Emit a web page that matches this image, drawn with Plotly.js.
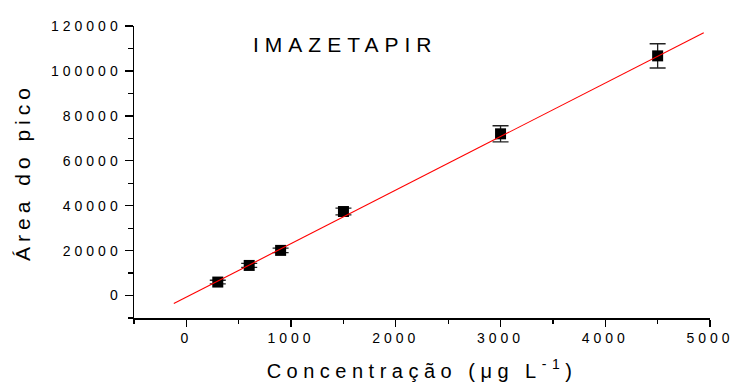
<!DOCTYPE html>
<html>
<head>
<meta charset="utf-8">
<script src="https://cdn.plot.ly/plotly-3.0.1.min.js"></script>
<style>
  html, body { margin: 0; padding: 0; background: #fff; }
  #chart { width: 735px; height: 385px; }
  .xtick text, .ytick text { letter-spacing: 4px; }
  .g-xtitle text { letter-spacing: 5.5px; }
  .g-ytitle text { letter-spacing: 5px; }
  .annotation-text { letter-spacing: 6px; }
</style>
</head>
<body>
<div id="chart"></div>
<script>
// Data
const concentration = [300, 600, 900, 1500, 3000, 4500];          // µg L-1
const peakArea      = [6000, 13400, 20100, 37400, 72000, 106700];
const peakAreaError = [800, 900, 1000, 1500, 3600, 5400];

// Fitted line endpoints as drawn in the picture
const fitX = [-120, 4940];
const fitY = [-3560, 117000];

const chartTitle = 'IMAZETAPIR';
const xTitle = 'Concentração (μg L<sup>-1</sup>)';
const yTitle = 'Área do pico';
const xTickVals = [0, 1000, 2000, 3000, 4000, 5000];
const yTickVals = [0, 20000, 40000, 60000, 80000, 100000, 120000];

const FONT = '"Liberation Sans", Arial, sans-serif';

const traces = [
  {
    x: concentration, y: peakArea, type: 'scatter', mode: 'markers',
    marker: { symbol: 'square', size: 11, color: '#000' },
    error_y: { type: 'data', array: peakAreaError, visible: true,
               color: '#222', thickness: 1.3, width: 8 },
    hoverinfo: 'x+y', showlegend: false
  },
  {
    x: fitX, y: fitY, type: 'scatter', mode: 'lines',
    line: { color: '#ff0000', width: 1.1 },
    hoverinfo: 'skip', showlegend: false
  }
];

const layout = {
  width: 735, height: 385,
  margin: { l: 134, r: 25, t: 26, b: 67 },
  paper_bgcolor: '#fff', plot_bgcolor: '#fff',
  font: { family: FONT, color: '#000', size: 14 },
  xaxis: {
    range: [-500, 5000], autorange: false,
    showgrid: false, zeroline: false,
    showline: true, linecolor: '#000', linewidth: 1.5, mirror: false,
    ticks: 'outside', ticklen: 7, tickwidth: 1.3, tickcolor: '#000',
    tickvals: xTickVals, ticktext: xTickVals.map(String),
    minor: { dtick: 500, tick0: 0, ticks: 'outside', ticklen: 4, tickwidth: 1.3, tickcolor: '#000' },
    tickfont: { family: FONT, size: 14, color: '#000' },
    title: { text: xTitle, font: { family: FONT, size: 20, color: '#000' }, standoff: 18 },
    automargin: false
  },
  yaxis: {
    range: [-10000, 120000], autorange: false,
    showgrid: false, zeroline: false,
    showline: true, linecolor: '#000', linewidth: 1.5, mirror: false,
    ticks: 'outside', ticklen: 8, tickwidth: 1.3, tickcolor: '#000',
    tickvals: yTickVals, ticktext: yTickVals.map(String),
    minor: { dtick: 10000, tick0: 0, ticks: 'outside', ticklen: 5, tickwidth: 1.3, tickcolor: '#000' },
    tickfont: { family: FONT, size: 14, color: '#000' },
    title: { text: yTitle, font: { family: FONT, size: 21, color: '#000' }, standoff: 14 },
    automargin: false
  },
  annotations: [{
    text: chartTitle, xref: 'paper', yref: 'paper',
    x: 0.203, y: 0.935, xanchor: 'left', yanchor: 'middle',
    showarrow: false, font: { family: FONT, size: 21, color: '#000' }
  }]
};

Plotly.newPlot('chart', traces, layout, { displayModeBar: false, staticPlot: true });
</script>
</body>
</html>
